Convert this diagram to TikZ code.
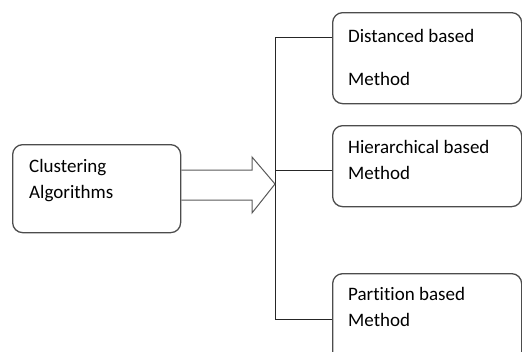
\documentclass[tikz,border=0pt]{standalone}
\usepackage{fontspec}
\setmainfont[Ligatures=NoCommon]{Carlito}
\begin{document}
\begin{tikzpicture}[x=1pt,y=-1pt,
  box/.style={draw=black!70,line width=1.3pt,rounded corners=10pt,rectangle,anchor=north west,inner sep=0pt},
  txt/.style={anchor=base west,inner sep=0pt,text=black,font=\fontsize{19}{22}\selectfont},
  conn/.style={draw=black!85,line width=1pt},
  blockarrow/.style={draw=black!65,line width=1pt,line join=miter}]
\useasboundingbox (0,0) rectangle (522,351);
\clip (0,0) rectangle (522,351);
\node[box,minimum width=168pt,minimum height=88pt] (ca) at (12,144) {};
\node[box,minimum width=189pt,minimum height=91pt] (dist) at (332,12) {};
\node[box,minimum width=189pt,minimum height=81pt] (hier) at (332,125) {};
\node[box,minimum width=189pt,minimum height=95pt] (part) at (332,273) {};
\node[txt] (t1) at (29,172) {Clustering};
\node[txt] (t2) at (29,198) {Algorithms};
\node[txt] (t3) at (348,42) {Distanced based};
\node[txt] (t4) at (348,85) {Method};
\node[txt] (t5) at (348,153) {Hierarchical based};
\node[txt] (t6) at (348,179) {Method};
\node[txt] (t7) at (348,300) {Partition based};
\node[txt] (t8) at (348,326) {Method};
\coordinate (vtop) at (275,37);
\coordinate (vmid) at (275,170);
\coordinate (vbot) at (275,319);
\coordinate (tip) at (275,184);
\draw[conn] (vtop) -- (vbot);
\draw[conn] (vtop) -- (vtop -| dist.west);
\draw[conn] (vmid) -- (vmid -| hier.west);
\draw[conn] (vbot) -- (vbot -| part.west);
\draw[blockarrow] (ca.east |- 0,170) -- (252,170) -- (252,157) -- (tip) -- (252,213) -- (252,200) -- (ca.east |- 0,200);
\end{tikzpicture}
\end{document}
